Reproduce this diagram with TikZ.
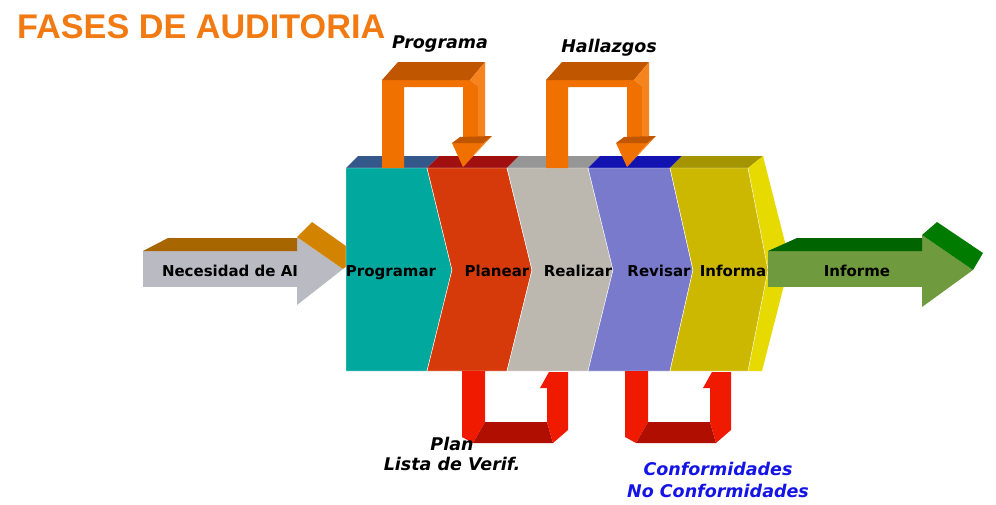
\documentclass[tikz,border=0pt]{standalone}
\usepackage{fontspec}
\setmainfont{DejaVu Sans}
\newfontfamily\titlefont{Liberation Sans}
\usetikzlibrary{positioning}
\definecolor{titleorange}{RGB}{242, 122, 18}
\definecolor{progteal}{RGB}{0, 168, 158}
\definecolor{progtop}{RGB}{52, 88, 138}
\definecolor{planred}{RGB}{214, 58, 10}
\definecolor{plantop}{RGB}{160, 16, 16}
\definecolor{realgrey}{RGB}{188, 184, 176}
\definecolor{realtop}{RGB}{150, 150, 150}
\definecolor{revblue}{RGB}{122, 122, 204}
\definecolor{revtop}{RGB}{18, 18, 176}
\definecolor{infoyellow}{RGB}{204, 184, 0}
\definecolor{infotop}{RGB}{164, 148, 0}
\definecolor{infoside}{RGB}{230, 218, 0}
\definecolor{loopfront}{RGB}{240, 112, 0}
\definecolor{looptop}{RGB}{192, 86, 0}
\definecolor{loopside}{RGB}{246, 132, 30}
\definecolor{backfront}{RGB}{240, 26, 0}
\definecolor{backtop}{RGB}{176, 14, 0}
\definecolor{ingrey}{RGB}{186, 186, 194}
\definecolor{intop}{RGB}{168, 102, 0}
\definecolor{inhead}{RGB}{210, 132, 0}
\definecolor{outgreen}{RGB}{112, 154, 62}
\definecolor{outtop}{RGB}{0, 100, 0}
\definecolor{confblue}{RGB}{20, 20, 230}

\begin{document}
\begin{tikzpicture}[x=1pt, y=-1pt,
    phase/.style={font=\fontsize{15}{18}\selectfont\bfseries, inner sep=0pt, anchor=base},
    note/.style={font=\fontsize{17.5}{20}\selectfont\bfseries\itshape, inner sep=0pt, anchor=base, align=center},
    front/.style={draw=white, line width=0.4pt}]
    \useasboundingbox[fill=white] (0,0) rectangle (996,504);
    \node[font=\titlefont\fontsize{34.2}{38}\selectfont\bfseries, text=titleorange, anchor=west, inner sep=0pt] (title) at (17,27) {FASES DE AUDITORIA};
    % entrada
    \fill[ingrey] (143,251) rectangle (297,287);
    \fill[ingrey] (297,237) -- (343,269) -- (297,305) -- cycle;
    \fill[intop] (143,251) -- (168,238) -- (297,238) -- (297,251) -- cycle;
    \fill[inhead] (297,237) -- (312,222) -- (360,256) -- (343,269) -- cycle;
    % fases
    \fill[progtop] (346,168) -- (358,156) -- (439,156) -- (427,168) -- cycle;
    \fill[plantop] (427,168) -- (439,156) -- (519,156) -- (507,168) -- cycle;
    \fill[realtop] (507,168) -- (519,156) -- (600,156) -- (588,168) -- cycle;
    \fill[revtop] (588,168) -- (600,156) -- (682,156) -- (670,168) -- cycle;
    \fill[infotop] (670,168) -- (682,156) -- (763,156) -- (748,168) -- cycle;
    \fill[infoside] (748,168) -- (763,156) -- (790,262) -- (762,371) -- (748,371) -- (768,270) -- cycle;
    \filldraw[front, fill=progteal] (346,168) -- (427,168) -- (452,270) -- (427,371) -- (346,371) -- cycle;
    \filldraw[front, fill=planred] (427,168) -- (507,168) -- (532,270) -- (507,371) -- (427,371) -- (452,270) -- cycle;
    \filldraw[front, fill=realgrey] (507,168) -- (588,168) -- (613,270) -- (588,371) -- (507,371) -- (532,270) -- cycle;
    \filldraw[front, fill=revblue] (588,168) -- (670,168) -- (693,270) -- (670,371) -- (588,371) -- (613,270) -- cycle;
    \filldraw[front, fill=infoyellow] (670,168) -- (748,168) -- (768,270) -- (748,371) -- (670,371) -- (693,270) -- cycle;
    % salida
    \fill[outgreen] (768,251) rectangle (922,287);
    \fill[outgreen] (922,235) -- (973,270) -- (922,307) -- cycle;
    \fill[outtop] (768,251) -- (797,238) -- (922,238) -- (922,251) -- cycle;
    \fill[outtop!85!green] (922,235) -- (937,222) -- (983,253) -- (973,270) -- cycle;
    % lazos superiores
    \foreach \dx in {0,164} {
        \begin{scope}[xshift=\dx]
            \fill[loopfront] (382,80) -- (470,80) -- (478,86) -- (478,143) -- (463,143) -- (463,87) -- (404,87) -- (404,168) -- (382,168) -- cycle;
            \fill[looptop] (382,80) -- (398,62) -- (485,62) -- (470,80) -- cycle;
            \fill[loopside] (470,80) -- (485,62) -- (485,138) -- (478,143) -- (478,86) -- cycle;
            \fill[loopfront] (452,143) -- (484,143) -- (463,167) -- cycle;
            \fill[looptop] (452,143) -- (460,137) -- (492,136) -- (484,143) -- cycle;
            \fill[loopside] (484,143) -- (492,136) -- (463,167) -- cycle;
        \end{scope}
    }
    % lazos inferiores
    \foreach \dx in {0,163} {
        \begin{scope}[xshift=\dx]
            \fill[backfront] (462,371) -- (485,371) -- (485,422) -- (473,443) -- (462,437) -- cycle;
            \fill[backtop] (485,422) -- (547,422) -- (553,443) -- (473,443) -- cycle;
            \fill[backfront] (540,388) -- (549,372) -- (568,372) -- (568,430) -- (553,443) -- (547,422) -- (547,388) -- cycle;
        \end{scope}
    }
    % textos
    \node[phase] (necesidad) at (230,276.5) {Necesidad de AI};
    \node[phase] (programar) at (391,276.5) {Programar};
    \node[phase] (planear) at (497,276.5) {Planear};
    \node[phase] (realizar) at (578,276.5) {Realizar};
    \node[phase] (revisar) at (659,276.5) {Revisar};
    \node[phase] (informa) at (733,276.5) {Informa};
    \node[phase] (informe) at (857,276.5) {Informe};
    \node[note] (programa) at (440,48) {Programa};
    \node[note] (hallazgos) at (609,52) {Hallazgos};
    \node[note] (plan) at (452,470) {Plan\\Lista de Verif.};
    \node[note, text=confblue] (conformidades) at (718,497) {Conformidades\\[2pt]No Conformidades};
\end{tikzpicture}
\end{document}
